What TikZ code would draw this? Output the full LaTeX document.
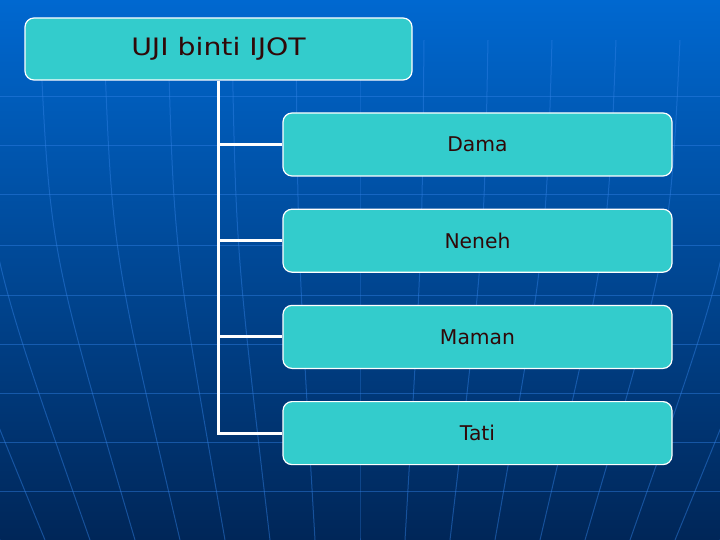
\documentclass[tikz,border=0pt]{standalone}
\usepackage{fontspec}
\usepackage{graphicx}
\setmainfont{DejaVu Sans}
\usetikzlibrary{positioning}
\definecolor{boxcyan}{RGB}{51,204,204}
\definecolor{bgtop}{RGB}{0,104,208}
\definecolor{bgmid}{RGB}{0,72,152}
\definecolor{bgbot}{RGB}{0,38,88}
\definecolor{gridblue}{RGB}{50,130,230}
\definecolor{textdark}{RGB}{48,8,8}
\tikzset{
    person/.style={draw=white, line width=1.2pt, fill=boxcyan, rounded corners=9pt,
        minimum width=387pt, minimum height=62pt, text=textdark,
        font=\fontsize{24}{28}\selectfont},
    kid/.style={person, minimum width=389pt, minimum height=63pt,
        font=\fontsize{20.3}{24}\selectfont},
    branch/.style={draw=white, line width=3pt},
    globeline/.style={draw=gridblue, line width=1pt, opacity=0.45},
}

\begin{document}
\begin{tikzpicture}[x=1pt, y=-1pt]
% background
\shade[top color=bgtop, middle color=bgmid, bottom color=bgbot] (0,0) rectangle (720,540);
\useasboundingbox (0,0) rectangle (720,540);
\foreach \yy in {97,146,195,245,295,344,393,442,491}
    \draw[globeline] (0,\yy) -- (720,\yy);
\foreach \k in {-8,...,8}
    \draw[globeline] (360+\k*64,40) .. controls (360+\k*62,250) .. (360+\k*45,540);
% tree
\node[person] (root) at (218.5,49) {\raisebox{-1pt}{\scalebox{1.18}[1]{UJI binti IJOT}}};
\node[kid] (dama) at (477.5,144.5) {Dama};
\node[kid, below=32pt of dama] (neneh) {Neneh};
\node[kid, below=32pt of neneh] (maman) {Maman};
\node[kid, below=32pt of maman] (tati) {Tati};
\draw[branch] (root.south) |- (dama.west);
\draw[branch] (root.south) |- (neneh.west);
\draw[branch] (root.south) |- (maman.west);
\draw[branch] (root.south) |- (tati.west);
\end{tikzpicture}
\end{document}
